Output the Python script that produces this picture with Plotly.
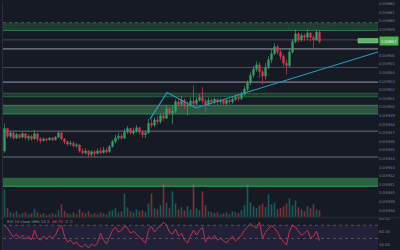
import plotly.graph_objects as go

# ---------------- data ----------------
opens = [0.039447, 0.039473, 0.039464, 0.039468, 0.039462, 0.039466, 0.039463, 0.039467, 0.039462, 0.039464,
         0.039461, 0.039467, 0.039461, 0.039459, 0.039461, 0.039460, 0.039462, 0.039460, 0.039463, 0.039468,
         0.039461, 0.039458, 0.039455, 0.039456, 0.039453, 0.039454, 0.039447, 0.039445, 0.039447, 0.039443,
         0.039446, 0.039444, 0.039447, 0.039445, 0.039448, 0.039446, 0.039452, 0.039458, 0.039462, 0.039464,
         0.039462, 0.039469, 0.039473, 0.039468, 0.039470, 0.039474, 0.039469, 0.039466, 0.039468, 0.039479,
         0.039477, 0.039483, 0.039481, 0.039488, 0.039485, 0.039496, 0.039491, 0.039493, 0.039504, 0.039501,
         0.039506, 0.039499, 0.039500, 0.039505, 0.039502, 0.039506, 0.039509, 0.039505, 0.039501, 0.039506,
         0.039504, 0.039507, 0.039504, 0.039506, 0.039502, 0.039506, 0.039504, 0.039507, 0.039509, 0.039508,
         0.039513, 0.039519, 0.039526, 0.039535, 0.039542, 0.039547, 0.039539, 0.039534, 0.039544, 0.039553,
         0.039560, 0.039568, 0.039562, 0.039557, 0.039549, 0.039546, 0.039562, 0.039574, 0.039583, 0.039576,
         0.039581, 0.039579, 0.039584, 0.039579, 0.039576, 0.039585]
closes = [0.039473, 0.039464, 0.039468, 0.039462, 0.039466, 0.039463, 0.039467, 0.039462, 0.039464, 0.039461,
          0.039467, 0.039461, 0.039459, 0.039461, 0.039460, 0.039462, 0.039460, 0.039463, 0.039468, 0.039461,
          0.039458, 0.039455, 0.039456, 0.039453, 0.039454, 0.039447, 0.039445, 0.039447, 0.039443, 0.039446,
          0.039444, 0.039447, 0.039445, 0.039448, 0.039446, 0.039452, 0.039458, 0.039462, 0.039464, 0.039462,
          0.039469, 0.039473, 0.039468, 0.039470, 0.039474, 0.039469, 0.039466, 0.039468, 0.039479, 0.039477,
          0.039483, 0.039481, 0.039488, 0.039485, 0.039496, 0.039491, 0.039493, 0.039504, 0.039501, 0.039506,
          0.039499, 0.039500, 0.039505, 0.039502, 0.039506, 0.039509, 0.039505, 0.039501, 0.039506, 0.039504,
          0.039507, 0.039504, 0.039506, 0.039502, 0.039506, 0.039504, 0.039507, 0.039509, 0.039508, 0.039513,
          0.039519, 0.039526, 0.039535, 0.039542, 0.039547, 0.039539, 0.039534, 0.039544, 0.039553, 0.039560,
          0.039568, 0.039562, 0.039557, 0.039549, 0.039546, 0.039562, 0.039574, 0.039583, 0.039576, 0.039581,
          0.039579, 0.039584, 0.039579, 0.039576, 0.039585, 0.039574]
highs = [0.039479, 0.039474, 0.039470, 0.039469, 0.039468, 0.039467, 0.039469, 0.039468, 0.039466, 0.039466,
         0.039471, 0.039468, 0.039463, 0.039463, 0.039462, 0.039463, 0.039463, 0.039464, 0.039470, 0.039469,
         0.039462, 0.039459, 0.039459, 0.039458, 0.039456, 0.039455, 0.039450, 0.039450, 0.039448, 0.039448,
         0.039448, 0.039450, 0.039451, 0.039452, 0.039451, 0.039454, 0.039460, 0.039466, 0.039468, 0.039467,
         0.039473, 0.039476, 0.039474, 0.039474, 0.039477, 0.039475, 0.039471, 0.039471, 0.039484, 0.039484,
         0.039486, 0.039488, 0.039491, 0.039492, 0.039500, 0.039498, 0.039500, 0.039507, 0.039508, 0.039511,
         0.039508, 0.039504, 0.039509, 0.039523, 0.039509, 0.039513, 0.039521, 0.039508, 0.039509, 0.039508,
         0.039509, 0.039508, 0.039508, 0.039507, 0.039508, 0.039508, 0.039511, 0.039513, 0.039513, 0.039516,
         0.039523, 0.039529, 0.039539, 0.039546, 0.039551, 0.039550, 0.039542, 0.039549, 0.039557, 0.039565,
         0.039572, 0.039570, 0.039565, 0.039559, 0.039553, 0.039566, 0.039577, 0.039588, 0.039585, 0.039584,
         0.039583, 0.039588, 0.039585, 0.039582, 0.039588, 0.039587]
lows = [0.039445, 0.039462, 0.039462, 0.039460, 0.039461, 0.039461, 0.039462, 0.039460, 0.039459, 0.039459,
        0.039460, 0.039458, 0.039456, 0.039458, 0.039458, 0.039459, 0.039458, 0.039459, 0.039462, 0.039459,
        0.039455, 0.039453, 0.039453, 0.039451, 0.039451, 0.039445, 0.039443, 0.039443, 0.039440, 0.039441,
        0.039441, 0.039443, 0.039443, 0.039444, 0.039444, 0.039445, 0.039451, 0.039456, 0.039460, 0.039460,
        0.039461, 0.039467, 0.039466, 0.039466, 0.039468, 0.039466, 0.039462, 0.039462, 0.039467, 0.039474,
        0.039475, 0.039478, 0.039479, 0.039482, 0.039484, 0.039489, 0.039478, 0.039491, 0.039498, 0.039499,
        0.039496, 0.039488, 0.039498, 0.039499, 0.039500, 0.039504, 0.039502, 0.039491, 0.039499, 0.039501,
        0.039501, 0.039500, 0.039501, 0.039500, 0.039500, 0.039501, 0.039502, 0.039505, 0.039505, 0.039506,
        0.039511, 0.039516, 0.039523, 0.039532, 0.039539, 0.039532, 0.039524, 0.039530, 0.039542, 0.039549,
        0.039558, 0.039559, 0.039553, 0.039545, 0.039536, 0.039544, 0.039560, 0.039572, 0.039573, 0.039574,
        0.039575, 0.039576, 0.039574, 0.039565, 0.039575, 0.039572]
volumes = [28, 9, 5, 4, 6, 3, 4, 5, 3, 4,
           8, 5, 3, 4, 2, 3, 4, 3, 7, 13,
           6, 4, 3, 5, 3, 8, 5, 4, 6, 3,
           4, 3, 5, 4, 3, 6, 7, 9, 5, 6,
           24, 10, 6, 5, 8, 6, 7, 5, 14, 24,
           9, 8, 12, 34, 15, 9, 26, 14, 8, 10,
           7, 11, 8, 33, 9, 7, 26, 12, 6, 5,
           4, 5, 3, 4, 5, 3, 6, 5, 4, 7,
           12, 33, 15, 11, 9, 12, 14, 10, 23, 13,
           15, 8, 9, 11, 14, 19, 12, 17, 10, 8,
           6, 11, 9, 13, 8, 7]
rsi = [69.8, 65.6, 58, 52, 56.5, 50.5, 55, 49, 53.5, 47.5,
       62.5, 50.5, 47.5, 53.5, 49, 53.5, 50.5, 55, 65.6, 70,
       53.5, 44.5, 47.5, 41.5, 44.5, 38.5, 37, 41.5, 35.5, 41.5,
       38.5, 43, 58, 47.5, 41.5, 53.5, 62.5, 67, 59.5, 62.5,
       68.6, 65.6, 58, 61, 56.5, 50.5, 47.5, 43, 62.5, 68.6,
       59.5, 65.6, 68.6, 74.6, 70, 59.5, 56.5, 64, 53.5, 58,
       47.5, 43, 53.5, 62.5, 55, 62.5, 67, 44.5, 53.5, 49,
       55, 47.5, 50.5, 46, 43, 49, 53.5, 46, 50.5, 55,
       62.5, 68.6, 73, 68.6, 65.6, 74.6, 50.5, 59.5, 65.6, 70,
       65.6, 59.5, 50.5, 46, 40, 61, 70, 67, 61, 55,
       58, 62.5, 50.5, 53.5, 61, 46.75]
bars = list(range(len(closes)))

# horizontal levels / zones (price)
zone_top = (0.039587, 0.039596)
zone_mid = (0.039490, 0.039500)
zone_low = (0.039406, 0.039416)
thin_band = (0.039510, 0.039514)
levels_dim = [0.039576, 0.039544]
levels_bright = [0.0395655, 0.039527]
levels_mid = [0.039470, 0.039440]
# teal trend drawing (bar index, price)
trend_x = [48.5, 54.2, 63.8, 124.5]
trend_y = [0.039484, 0.039515, 0.039497, 0.039562]
# price-axis tick values (every 0.00001)
price_ticks = [0.039618, 0.039608, 0.039598, 0.039588, 0.039558, 0.039548, 0.039538,
               0.039528, 0.039518, 0.039508, 0.039498, 0.039488, 0.039478, 0.039468, 0.039458,
               0.039448, 0.039438, 0.039428, 0.039418, 0.039408, 0.039398, 0.039388, 0.039378]
rsi_label = "RSI 14 close SMA 14 2"
rsi_last = "46.75"
last_price_text = "0.03957"
rsi_ticks = [40, 60, 80]

# ---------------- figure ----------------
BG = "#161a25"
UP = "#3a9f68"
DN = "#d13a52"

fig = go.Figure()

vol_colors = ["rgba(38,166,154,0.45)" if c >= o else "rgba(239,83,80,0.45)" for o, c in zip(opens, closes)]
fig.add_trace(go.Bar(x=bars, y=volumes, yaxis="y3", marker_color=vol_colors,
                     marker_line_width=0, width=0.55, hoverinfo="skip"))

fig.add_trace(go.Candlestick(x=bars, open=opens, high=highs, low=lows, close=closes,
                             increasing=dict(line=dict(color=UP, width=0.7), fillcolor=UP),
                             decreasing=dict(line=dict(color=DN, width=0.7), fillcolor=DN),
                             whiskerwidth=0, hoverinfo="skip"))

fig.add_trace(go.Scatter(x=trend_x, y=trend_y, mode="lines",
                         line=dict(color="#1f9fb8", width=1.1), hoverinfo="skip"))

fig.add_trace(go.Scatter(x=bars, y=rsi, yaxis="y2", mode="lines",
                         line=dict(color="#d2354f", width=0.9), hoverinfo="skip"))

shapes = []
def hline(y, color, width=1, dash="solid", yref="y"):
    shapes.append(dict(type="line", xref="x domain", x0=0, x1=1, yref=yref, y0=y, y1=y,
                       line=dict(color=color, width=width, dash=dash), layer="below"))

def zone(lo, hi, fill):
    shapes.append(dict(type="rect", xref="x domain", x0=0, x1=1, yref="y", y0=lo, y1=hi,
                       fillcolor=fill, line=dict(width=0), layer="below"))

zone(zone_top[0], zone_top[1], "rgba(60,140,85,0.30)")
hline(zone_top[1], "#2f6e48", 1, "dot")
hline(zone_top[0], "#2e7a4e", 1)
zone(zone_mid[0], zone_mid[1], "rgba(70,160,95,0.45)")
hline(zone_mid[1], "#2f8a55", 1)
hline(zone_mid[0], "#2f8a55", 1)
zone(thin_band[0], thin_band[1], "rgba(50,120,75,0.35)")
hline(thin_band[1], "#28603f", 1)
hline(thin_band[0], "#28603f", 1)
zone(zone_low[0], zone_low[1], "rgba(70,165,95,0.5)")
hline(zone_low[0], "#35a062", 1)
for v in levels_dim:
    hline(v, "#4a4d58", 1)
for v in levels_bright:
    hline(v, "#9a9da6", 1)
for v in levels_mid:
    hline(v, "#6c6f7a", 1)

# RSI band and levels
shapes.append(dict(type="rect", xref="x domain", x0=0, x1=1, yref="y2", y0=30, y1=70,
                   fillcolor="rgba(126,87,194,0.13)", line=dict(width=0), layer="below"))
for v in (70, 50):
    shapes.append(dict(type="line", xref="x domain", x0=0, x1=1, yref="y2", y0=v, y1=v,
                       line=dict(color="#5d5f6b", width=0.8, dash="dot"), layer="below"))

# pane separator and left border
shapes.append(dict(type="line", xref="paper", x0=0, x1=1, yref="paper", y0=1 - 217.5 / 250, y1=1 - 217.5 / 250,
                   line=dict(color="#2a2e39", width=1)))
shapes.append(dict(type="line", xref="paper", x0=2.5 / 400, x1=2.5 / 400, yref="paper", y0=0, y1=1,
                   line=dict(color="#2a2e39", width=1)))
# last-price marker box
shapes.append(dict(type="rect", xref="paper", x0=358 / 400, x1=378 / 400, yref="y",
                   y0=closes[-1] - 0.0000015, y1=closes[-1] + 0.0000035,
                   fillcolor="#5cb567", line=dict(color="#8fd19a", width=0.6)))

annotations = [
    dict(xref="paper", yref="y", x=378.5 / 400, y=closes[-1] + 0.000001, text=last_price_text,
         xanchor="left", yanchor="middle", showarrow=False, bgcolor="#4caf50",
         font=dict(size=3.8, color="#ffffff", family="DejaVu Sans"), borderpad=1.5, width=15),
    dict(xref="paper", yref="paper", x=5 / 400, y=1 - 221.5 / 250,
         text=rsi_label + "  <span style='color:#e0455c'>" + rsi_last + "</span>  \u2205 \u2205",
         xanchor="left", yanchor="middle", showarrow=False,
         font=dict(size=3.8, color="#8a8e99", family="DejaVu Sans")),
]

fig.update_layout(
    width=400, height=250, margin=dict(l=0, r=0, t=0, b=0),
    paper_bgcolor=BG, plot_bgcolor=BG, showlegend=False,
    shapes=shapes, annotations=annotations, hovermode=False,
    xaxis=dict(domain=[3 / 400, 378 / 400], range=[-0.5, 124.5], visible=False,
               rangeslider=dict(visible=False), fixedrange=True),
    yaxis=dict(domain=[1 - 217 / 250, 1], range=[0.03937, 0.03962], side="right",
               tickmode="array", tickvals=price_ticks, tickformat=".5f",
               showgrid=False, zeroline=False, showline=False, ticks="",
               tickfont=dict(size=3.8, color="#7c808a", family="DejaVu Sans")),
    yaxis3=dict(domain=[1 - 217 / 250, 1], range=[0, 217], overlaying="y", visible=False),
    yaxis2=dict(domain=[0, 1 - 218 / 250], range=[32.5, 80.6], side="right", anchor="x",
                tickmode="array", tickvals=rsi_ticks, ticktext=["%.2f" % v for v in rsi_ticks],
                showgrid=False, zeroline=False, showline=False, ticks="",
                tickfont=dict(size=3.8, color="#7c808a", family="DejaVu Sans")),
)

fig.write_html("out.html")
